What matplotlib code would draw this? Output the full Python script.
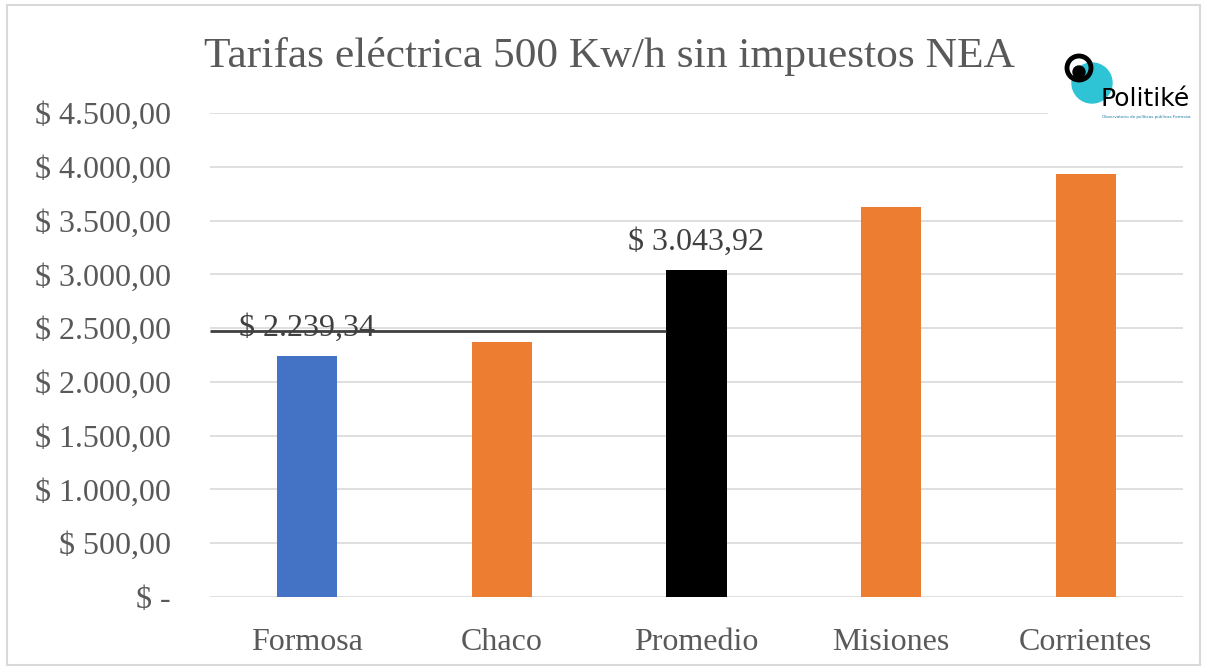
import numpy as np
import matplotlib.pyplot as plt
from matplotlib.patches import Circle, Rectangle

provincias = ["Formosa", "Chaco", "Promedio", "Misiones", "Corrientes"]
tarifas = [2239.34, 2370, 3043.92, 3628, 3932]
colores = ["#4472C4", "#ED7D31", "#000000", "#ED7D31", "#ED7D31"]
etiquetas = {0: "$ 2.239,34", 2: "$ 3.043,92"}
linea_ref = 2470
yticks = np.arange(0, 4501, 500)


def fmt(v):
    if v == 0:
        return "$ -"
    s = f"{v:,.2f}".replace(",", "X").replace(".", ",").replace("X", ".")
    return "$ " + s


plt.rcParams['font.family'] = ['Liberation Serif', 'DejaVu Serif']
gris = "#595959"

fig = plt.figure(figsize=(12.05, 6.68), dpi=100)
ax = fig.add_axes([210/1205, 1-597/668, 973/1205, (597-113)/668])

x = np.arange(len(provincias))
ax.bar(x, tarifas, width=0.31, color=colores, zorder=3)
ax.set_xlim(-0.5, 4.5)
ax.set_ylim(0, 4500)
ax.set_yticks(yticks)
ax.set_yticklabels([fmt(v) for v in yticks], fontsize=23, color=gris)
ax.set_xticks(x)
ax.set_xticklabels(provincias, fontsize=23, color=gris)
ax.tick_params(axis='y', length=0, pad=28)
ax.tick_params(axis='x', length=0, pad=22)
ax.grid(axis='y', color="#D9D9D9", linewidth=1.2, zorder=0)
for s in ax.spines.values():
    s.set_visible(False)

for i, txt in etiquetas.items():
    ax.annotate(txt, (x[i], tarifas[i]), xytext=(0, 20), textcoords="offset points",
                ha="center", va="center", fontsize=23, color="#404040", zorder=4)

# linea de referencia hasta la barra del promedio
ax.hlines(linea_ref, -0.5, x[2] - 0.155, color="#404040", linewidth=2, zorder=5)

fig.text(610/1205, 1-57/668, "Tarifas eléctrica 500 Kw/h sin impuestos NEA",
         ha="center", va="center", fontsize=31.3, color=gris)

# marco del grafico
fig.patches.append(Rectangle((7/1205, 3/668), 1193/1205, 660/668, transform=fig.transFigure,
                             fill=False, edgecolor="#D9D9D9", linewidth=1.5))

# logo Politiké (imagen pegada sobre el grafico)
lg = fig.add_axes([1048/1205, 1-140/668, 155/1205, 112/668])
lg.set_xlim(1048, 1203)
lg.set_ylim(140, 28)
lg.set_aspect('equal')
lg.axis('off')
lg.add_patch(Rectangle((1048, 28), 155, 112, color="white"))
lg.add_patch(Circle((1092, 83), 20, color="#2EC4D6"))
lg.add_patch(Circle((1079, 68), 12, fill=False, edgecolor="black", linewidth=3.5))
lg.add_patch(Circle((1079, 72), 6, color="black"))
lg.text(1145, 99, "Politiké", ha="center", va="center", fontsize=18,
        family="DejaVu Sans", weight="medium", color="black")
lg.text(1146, 117, "Observatorio de políticas públicas Formosa", ha="center",
        va="center", fontsize=3, family="DejaVu Sans", color="#1A7FA8")

fig.savefig("out.png", dpi=100)
